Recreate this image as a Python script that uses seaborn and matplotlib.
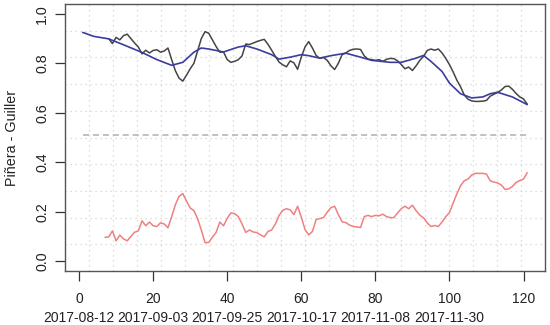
import numpy as np
import pandas as pd
import matplotlib
matplotlib.use("Agg")
import matplotlib.pyplot as plt
import seaborn as sns

# ---- data ----
black_start = 8
black_vals = [0.90, 0.88, 0.905, 0.895, 0.912, 0.918, 0.90, 0.882, 0.866, 0.838,
              0.853, 0.842, 0.852, 0.855, 0.845, 0.85, 0.862, 0.815, 0.77, 0.74,
              0.728, 0.752, 0.778, 0.80, 0.85, 0.90, 0.928, 0.922, 0.895, 0.868,
              0.845, 0.846, 0.815, 0.804, 0.808, 0.815, 0.83, 0.878, 0.876, 0.882,
              0.888, 0.893, 0.897, 0.877, 0.853, 0.828, 0.805, 0.794, 0.786, 0.81,
              0.802, 0.776, 0.825, 0.866, 0.888, 0.862, 0.832, 0.82, 0.824, 0.812,
              0.79, 0.775, 0.80, 0.835, 0.842, 0.852, 0.857, 0.858, 0.856, 0.83,
              0.817, 0.815, 0.812, 0.815, 0.808, 0.816, 0.82, 0.819, 0.81, 0.795,
              0.778, 0.785, 0.771, 0.79, 0.812, 0.828, 0.852, 0.858, 0.853, 0.858,
              0.842, 0.82, 0.795, 0.765, 0.732, 0.705, 0.672, 0.655, 0.648, 0.646,
              0.646, 0.647, 0.65, 0.667, 0.675, 0.682, 0.692, 0.706, 0.708, 0.695,
              0.678, 0.664, 0.656, 0.635]

red_start = 7
red_vals = [0.096, 0.098, 0.122, 0.082, 0.105, 0.09, 0.082, 0.10, 0.117, 0.122,
            0.163, 0.143, 0.158, 0.143, 0.14, 0.155, 0.15, 0.135, 0.18, 0.228,
            0.262, 0.273, 0.243, 0.215, 0.204, 0.172, 0.126, 0.075, 0.075, 0.097,
            0.116, 0.158, 0.143, 0.173, 0.195, 0.192, 0.18, 0.15, 0.116, 0.126,
            0.118, 0.115, 0.106, 0.098, 0.12, 0.126, 0.15, 0.185, 0.205, 0.212,
            0.207, 0.188, 0.222, 0.178, 0.128, 0.106, 0.12, 0.168, 0.172, 0.176,
            0.198, 0.216, 0.222, 0.188, 0.159, 0.156, 0.146, 0.14, 0.138, 0.136,
            0.18, 0.185, 0.18, 0.185, 0.183, 0.19, 0.18, 0.176, 0.176, 0.195,
            0.212, 0.222, 0.212, 0.226, 0.204, 0.186, 0.175, 0.155, 0.14, 0.144,
            0.14, 0.158, 0.18, 0.196, 0.235, 0.272, 0.305, 0.325, 0.332, 0.348,
            0.355, 0.355, 0.355, 0.352, 0.325, 0.32, 0.316, 0.308, 0.29, 0.292,
            0.302, 0.318, 0.326, 0.332, 0.358]

blue_x = [1, 4, 8, 12, 17, 21, 25, 28, 31, 33, 35, 39, 43, 45, 48, 52, 54, 57,
          60, 62, 65, 68, 72, 76, 79, 84, 87, 91, 93, 95, 98, 100, 103, 106,
          109, 111, 113, 117, 121]
blue_y = [0.925, 0.909, 0.899, 0.875, 0.844, 0.815, 0.792, 0.804, 0.845, 0.862,
          0.858, 0.846, 0.866, 0.871, 0.858, 0.835, 0.817, 0.825, 0.835, 0.831,
          0.821, 0.831, 0.841, 0.825, 0.812, 0.804, 0.804, 0.821, 0.832, 0.808,
          0.767, 0.72, 0.677, 0.66, 0.664, 0.677, 0.683, 0.664, 0.633]

threshold = 0.51
tick_pos = [0, 20, 40, 60, 80, 100, 120]
tick_dates = ["2017-08-12", "2017-09-03", "2017-09-25", "2017-10-17",
              "2017-11-08", "2017-11-30", ""]
y_ticks = [0.0, 0.2, 0.4, 0.6, 0.8, 1.0]
ylabel = "Piñera - Guiller"

black_df = pd.DataFrame({"x": np.arange(black_start, black_start + len(black_vals)),
                         "y": black_vals})
red_df = pd.DataFrame({"x": np.arange(red_start, red_start + len(red_vals)),
                       "y": red_vals})
blue_df = pd.DataFrame({"x": blue_x, "y": blue_y})

sns.set_theme(style="white")
plt.rcParams["font.family"] = ["Liberation Sans", "DejaVu Sans"]

fig = plt.figure(figsize=(5.5, 3.25), dpi=100)
ax = fig.add_axes([65 / 550, 54 / 325, 480 / 550, 267 / 325])

xlim = (-3.8, 125.8)
ylim = (-0.04, 1.04)

# R-style grid(20, 10)
for k in range(1, 20):
    ax.axvline(xlim[0] + k * (xlim[1] - xlim[0]) / 20, color="#d3d3d3",
               lw=0.9, ls=(0, (1, 3)), zorder=0)
for k in range(1, 10):
    ax.axhline(ylim[0] + k * (ylim[1] - ylim[0]) / 10, color="#d3d3d3",
               lw=0.9, ls=(0, (1, 3)), zorder=0)

ax.plot([1, 121], [threshold, threshold], color="#b0b0b0", lw=1.1,
        ls=(0, (4, 2.5)), zorder=1)

sns.lineplot(data=black_df, x="x", y="y", ax=ax, color="#454545", lw=1.1, zorder=2)
sns.lineplot(data=blue_df, x="x", y="y", ax=ax, color="#3a3d9e", lw=1.2, zorder=3)
sns.lineplot(data=red_df, x="x", y="y", ax=ax, color="#f08080", lw=1.1, zorder=2)

ax.set_xlim(*xlim)
ax.set_ylim(*ylim)
ax.set_xticks(tick_pos)
ax.set_xticklabels([f"{p}\n{d}" for p, d in zip(tick_pos, tick_dates)],
                   linespacing=1.45, fontsize=10)
ax.set_yticks(y_ticks)
ax.set_yticklabels([f"{v:.1f}" for v in y_ticks], fontsize=10.3)
ax.tick_params(axis="both", direction="out", length=7, width=0.9,
               color="#333333", labelcolor="#222222",
               bottom=True, left=True)
ax.tick_params(axis="x", pad=8)
ax.tick_params(axis="y", pad=9.5)
for lab in ax.get_yticklabels():
    lab.set_rotation(90)
    lab.set_ha("center")
    lab.set_va("center")
for s in ax.spines.values():
    s.set_color("#555555")
    s.set_linewidth(1.0)
ax.set_xlabel("")
ax.set_ylabel("")
fig.text(12 / 550, 1 - 138 / 325, ylabel, rotation=90, ha="center", va="center",
         fontsize=10.3, color="#222222")
ax.grid(False)

fig.savefig("out.png", dpi=100)
